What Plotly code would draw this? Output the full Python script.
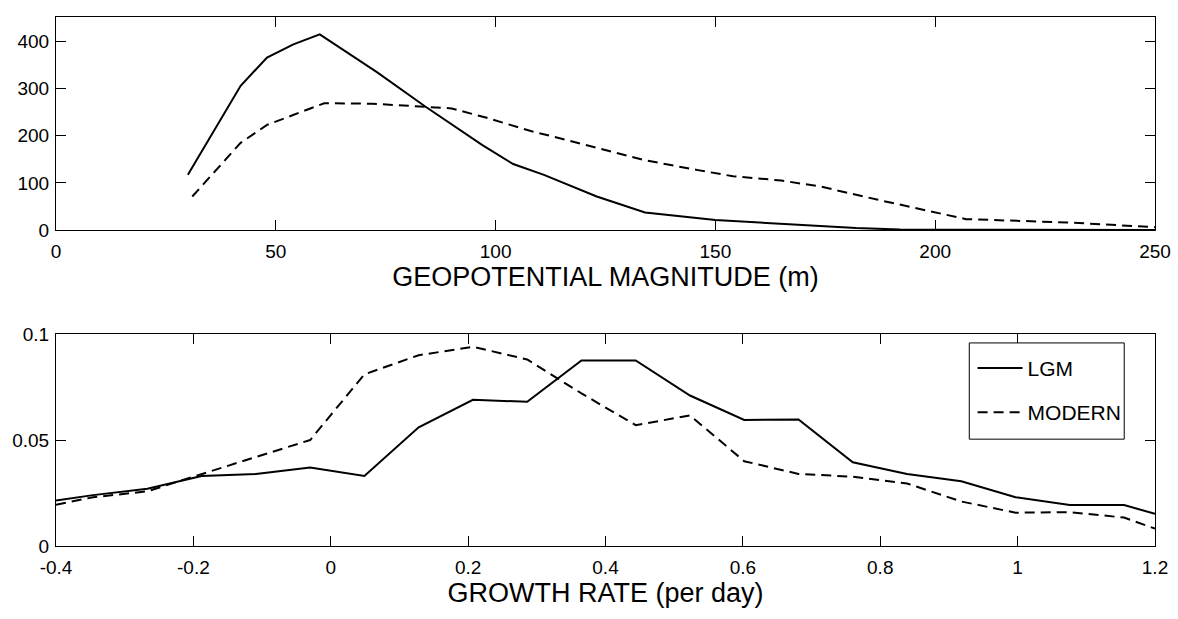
import plotly.graph_objects as go
from plotly.subplots import make_subplots

# Top panel: geopotential magnitude (m)
geo_lgm_x = [30, 42, 48, 54, 60, 73, 84, 97, 104, 111, 123, 134, 150, 168, 182, 192, 250]
geo_lgm_y = [117, 306, 366, 394, 415, 335, 262, 180, 140, 117, 71, 37, 21, 12, 4, 1, 0]
geo_mod_x = [31, 42, 48, 55, 61, 72, 84, 90, 98, 108, 117, 134, 146, 154, 165, 174, 187, 200, 207, 230, 250]
geo_mod_y = [71, 185, 223, 248, 269, 268, 262, 258, 238, 210, 189, 148, 127, 114, 105, 92, 64, 38, 23, 16, 6]

# Bottom panel: growth rate (per day)
gr_x = [-0.4, -0.346, -0.267, -0.188, -0.109, -0.030, 0.049, 0.128, 0.207, 0.286, 0.365,
        0.444, 0.523, 0.602, 0.681, 0.760, 0.839, 0.918, 0.997, 1.076, 1.155, 1.2]
gr_lgm = [0.0215, 0.024, 0.027, 0.033, 0.034, 0.037, 0.033, 0.056, 0.069, 0.068, 0.0875,
          0.0875, 0.071, 0.0595, 0.0597, 0.0395, 0.034, 0.0305, 0.023, 0.0193, 0.0193, 0.0152]
gr_mod = [0.0195, 0.023, 0.0258, 0.034, 0.042, 0.050, 0.081, 0.090, 0.094, 0.088, 0.072,
          0.057, 0.0616, 0.040, 0.034, 0.0327, 0.0295, 0.021, 0.0157, 0.016, 0.0134, 0.0082]

top_xticks = [0, 50, 100, 150, 200, 250]
top_yticks = [0, 100, 200, 300, 400]
bot_xticks = [-0.4, -0.2, 0, 0.2, 0.4, 0.6, 0.8, 1.0, 1.2]
bot_xlabels = ["-0.4", "-0.2", "0", "0.2", "0.4", "0.6", "0.8", "1", "1.2"]
bot_yticks = [0, 0.05, 0.1]
bot_ylabels = ["0", "0.05", "0.1"]

FONT = "Liberation Sans, Arial, Helvetica, sans-serif"
DASH = "10px,6px"
LW = 2

fig = make_subplots(rows=2, cols=1, vertical_spacing=0.1986)
fig.update_layout(
    yaxis_domain=[0.5974, 1.0],
    yaxis2_domain=[0.0, 0.4007],
)

fig.add_trace(go.Scatter(x=geo_lgm_x, y=geo_lgm_y, mode="lines",
                         line=dict(color="black", width=LW), showlegend=False), row=1, col=1)
fig.add_trace(go.Scatter(x=geo_mod_x, y=geo_mod_y, mode="lines",
                         line=dict(color="black", width=LW, dash=DASH), showlegend=False), row=1, col=1)
fig.add_trace(go.Scatter(x=gr_x, y=gr_lgm, mode="lines", name="LGM", legendgroup="a",
                         line=dict(color="black", width=LW)), row=2, col=1)
fig.add_trace(go.Scatter(x=gr_x, y=gr_mod, mode="lines", name="MODERN", legendgroup="b",
                         line=dict(color="black", width=LW, dash=DASH)), row=2, col=1)

axis_common = dict(showline=True, linecolor="black", linewidth=1, mirror="ticks",
                   ticks="inside", ticklen=10, tickcolor="black", showgrid=False,
                   zeroline=False, tickfont=dict(size=19, color="black", family=FONT))

fig.update_xaxes(**axis_common)
fig.update_yaxes(**axis_common)

fig.update_xaxes(range=[0, 250], tickvals=top_xticks, row=1, col=1,
                 title=dict(text="GEOPOTENTIAL MAGNITUDE (m)", font=dict(size=27, color="black", family=FONT),
                            standoff=4), ticklabelstandoff=4)
fig.update_yaxes(range=[0, 452], tickvals=top_yticks, row=1, col=1, ticklabelstandoff=2)
fig.update_xaxes(range=[-0.4, 1.2], tickvals=bot_xticks, ticktext=bot_xlabels, row=2, col=1,
                 title=dict(text="GROWTH RATE (per day)", font=dict(size=27, color="black", family=FONT),
                            standoff=6), ticklabelstandoff=4)
fig.update_yaxes(range=[0, 0.1], tickvals=bot_yticks, ticktext=bot_ylabels, row=2, col=1, ticklabelstandoff=2)

# legend frame
fig.add_shape(type="rect", xref="x2 domain", yref="y2 domain",
              x0=0.831, x1=0.972, y0=0.504, y1=0.958,
              line=dict(color="black", width=1), fillcolor="white", layer="above")

fig.update_layout(
    width=1178, height=619,
    margin=dict(l=56, r=20, t=7, b=73),
    plot_bgcolor="white", paper_bgcolor="white",
    font=dict(family=FONT, color="black"),
    legend=dict(x=0.834, y=0.3747, xanchor="left", yanchor="top",
                borderwidth=0, bgcolor="rgba(0,0,0,0)",
                font=dict(size=21, color="black", family=FONT),
                itemwidth=45, tracegroupgap=14, traceorder="grouped"),
)

fig.write_html("out.html")
